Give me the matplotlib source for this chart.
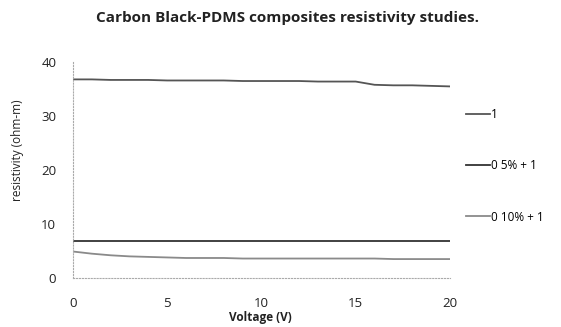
import matplotlib.pyplot as plt

plt.rcParams['font.family'] = ['Open Sans', 'DejaVu Sans']

voltage = list(range(0, 21))
res_1 = [36.8, 36.8, 36.7, 36.7, 36.7, 36.6, 36.6, 36.6, 36.6, 36.5, 36.5,
         36.5, 36.5, 36.4, 36.4, 36.4, 35.8, 35.7, 35.7, 35.6, 35.5]
res_05 = [6.9, 6.9, 6.9, 6.9, 6.9, 6.9, 6.9, 6.9, 6.9, 6.9, 6.9,
          6.9, 6.9, 6.9, 6.9, 6.9, 6.9, 6.9, 6.9, 6.9, 6.9]
res_010 = [4.9, 4.5, 4.2, 4.0, 3.9, 3.8, 3.7, 3.7, 3.7, 3.6, 3.6,
           3.6, 3.6, 3.6, 3.6, 3.6, 3.6, 3.5, 3.5, 3.5, 3.5]

labels = ['1', '0 5% + 1', '0 10% + 1']
colors = ['#555555', '#333333', '#8a8a8a']

fig = plt.figure(figsize=(5.61, 3.27), dpi=100)
ax = fig.add_axes([0.130, 0.150, 0.672, 0.660])

for y, lab, c in zip([res_1, res_05, res_010], labels, colors):
    ax.plot(voltage, y, color=c, lw=1.3, label=lab)

ax.set_xlim(0, 20)
ax.set_ylim(0, 40)
ax.set_xticks([0, 5, 10, 15, 20])
ax.set_yticks([0, 10, 20, 30, 40])
ax.tick_params(labelsize=9.5, length=0, colors='#222222')
ax.tick_params(axis='x', pad=14)
ax.tick_params(axis='y', pad=12)
for s in ['top', 'right']:
    ax.spines[s].set_visible(False)
for s in ['left', 'bottom']:
    ax.spines[s].set_color('#aaaaaa')
    ax.spines[s].set_linestyle(':')

fig.text(0.512, 0.945, 'Carbon Black-PDMS composites resistivity studies.',
         ha='center', va='center', fontsize=11, fontweight='bold', color='#222222')
fig.text(0.465, 0.03, 'Voltage (V)', ha='center', va='center', fontsize=8.5,
         fontweight='bold', color='#222222')
fig.text(0.032, 0.54, 'resistivity (ohm-m)', ha='center', va='center',
         rotation=90, fontsize=8.5, color='#222222')

ax.legend(loc='upper left', bbox_to_anchor=(1.03, 0.81), frameon=False,
          fontsize=8.5, handlelength=2.0, handletextpad=0.1, labelspacing=3.25,
          borderaxespad=0)

fig.savefig('out.png', dpi=100)
